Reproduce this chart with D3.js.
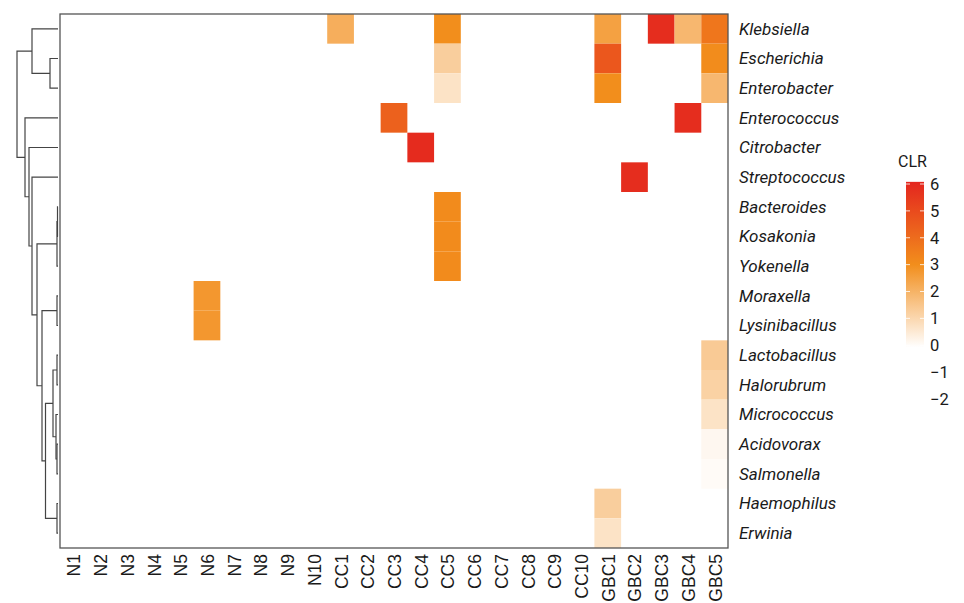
<!DOCTYPE html>
<html>
<head>
<meta charset="utf-8">
<script src="https://cdn.jsdelivr.net/npm/d3@7"></script>
<style>
  body { margin: 0; background: #fff; }
</style>
</head>
<body>
<script>
const width = 964
const height = 603

const samples = ["N1","N2","N3","N4","N5","N6","N7","N8","N9","N10",
  "CC1","CC2","CC3","CC4","CC5","CC6","CC7","CC8","CC9","CC10",
  "GBC1","GBC2","GBC3","GBC4","GBC5"]

const genera = ["Klebsiella","Escherichia","Enterobacter","Enterococcus","Citrobacter",
  "Streptococcus","Bacteroides","Kosakonia","Yokenella","Moraxella","Lysinibacillus",
  "Lactobacillus","Halorubrum","Micrococcus","Acidovorax","Salmonella","Haemophilus","Erwinia"]

// non-zero CLR cells: [genus, sample, value]
const cells = [
  ["Klebsiella","CC1",2.15], ["Klebsiella","CC5",3.0], ["Klebsiella","GBC1",2.5],
  ["Klebsiella","GBC3",5.8], ["Klebsiella","GBC4",1.9], ["Klebsiella","GBC5",3.7],
  ["Escherichia","CC5",1.3], ["Escherichia","GBC1",4.6], ["Escherichia","GBC5",3.05],
  ["Enterobacter","CC5",0.75], ["Enterobacter","GBC1",3.0], ["Enterobacter","GBC5",1.9],
  ["Enterococcus","CC3",4.3], ["Enterococcus","GBC4",5.8],
  ["Citrobacter","CC4",5.85],
  ["Streptococcus","GBC2",5.8],
  ["Bacteroides","CC5",3.1], ["Kosakonia","CC5",3.1], ["Yokenella","CC5",3.1],
  ["Moraxella","N6",2.75], ["Lysinibacillus","N6",2.75],
  ["Lactobacillus","GBC5",1.4], ["Halorubrum","GBC5",1.2], ["Micrococcus","GBC5",0.75],
  ["Acidovorax","GBC5",0.2], ["Salmonella","GBC5",0.1],
  ["Haemophilus","GBC1",1.3], ["Erwinia","GBC1",0.75]
]

// row dendrogram: [height, left, right]
const tree = [41,
  [26, "Klebsiella", [8, "Escherichia", "Enterobacter"]],
  [33, "Enterococcus",
    [29, "Citrobacter",
      [26, "Streptococcus",
        [21,
          [1, [0.5, "Bacteroides", "Kosakonia"], "Yokenella"],
          [16, [1, "Moraxella", "Lysinibacillus"],
            [12.5,
              [5, [1, "Lactobacillus", "Halorubrum"],
                  [2, "Micrococcus", [1, "Acidovorax", "Salmonella"]]],
              [1, "Haemophilus", "Erwinia"]]]]]]]]

const legendTicks = [6, 5, 4, 3, 2, 1, 0, -1, -2]

const panel = {left: 60, right: 728, top: 14, bottom: 548}

const svg = d3.select("body").append("svg")
    .attr("width", width)
    .attr("height", height)

const x = d3.scaleBand().domain(samples).range([panel.left, panel.right])
const y = d3.scaleBand().domain(genera).range([panel.top, panel.bottom])
const color = d3.scaleLinear()
    .domain([0, 3, 6])
    .range(["#ffffff", "#f28e1c", "#e4261e"])
    .clamp(true)

// cells
svg.append("g").selectAll("rect")
    .data(cells)
    .enter()
    .append("rect")
    .attr("x", d => x(d[1]))
    .attr("y", d => y(d[0]))
    .attr("width", x.bandwidth())
    .attr("height", y.bandwidth())
    .attr("fill", d => color(d[2]))

// panel border
svg.append("rect")
    .attr("x", panel.left)
    .attr("y", panel.top)
    .attr("width", panel.right - panel.left)
    .attr("height", panel.bottom - panel.top)
    .attr("fill", "none")
    .attr("stroke", "#555")
    .attr("stroke-width", 1.3)

// column labels
svg.append("g").selectAll("text")
    .data(samples)
    .enter()
    .append("text")
    .attr("transform", d => `translate(${x(d) + x.bandwidth()/2 + 7},${panel.bottom + 6}) rotate(-90)`)
    .attr("text-anchor", "end")
    .style("font-family", "'Liberation Sans', Arial, sans-serif")
    .style("font-size", "17.5px")
    .attr("fill", "#1a1a1a")
    .text(d => d)

// row labels
svg.append("g").selectAll("text")
    .data(genera)
    .enter()
    .append("text")
    .attr("x", panel.right + 11)
    .attr("y", d => y(d) + y.bandwidth()/2)
    .attr("dy", "0.35em")
    .style("font-family", "Roboto, sans-serif")
    .style("font-style", "italic")
    .style("font-size", "17px")
    .attr("fill", "#1a1a1a")
    .text(d => d)

// dendrogram
const hx = d3.scaleLinear().domain([0, 41]).range([58, 17])
const dendro = svg.append("g")
    .attr("fill", "none")
    .attr("stroke", "#444")
    .attr("stroke-width", 1.2)

function drawNode(node){
  if(typeof node === "string"){
    return {pos: y(node) + y.bandwidth()/2, h: 0}
  }
  const a = drawNode(node[1])
  const b = drawNode(node[2])
  const nx = hx(node[0])
  dendro.append("path")
      .attr("d", `M${hx(a.h)},${a.pos}H${nx}V${b.pos}H${hx(b.h)}`)
  return {pos: (a.pos + b.pos)/2, h: node[0]}
}
drawNode(tree)

// legend
const ly = d3.scaleLinear().domain([-2, 6]).range([399, 184])
const legend = svg.append("g")
const barX = 906, barW = 18

const grad = svg.append("defs").append("linearGradient")
    .attr("id", "clrGrad")
    .attr("x1", 0).attr("y1", 1).attr("x2", 0).attr("y2", 0)
d3.range(0, 6.01, 0.5).forEach(v => {
  grad.append("stop")
      .attr("offset", v/6)
      .attr("stop-color", color(v))
})

legend.append("rect")
    .attr("x", barX)
    .attr("y", ly(6.08))
    .attr("width", barW)
    .attr("height", ly(-0.08) - ly(6.08))
    .attr("fill", "url(#clrGrad)")

legend.selectAll(".tk")
    .data(d3.range(0, 7))
    .enter()
    .append("path")
    .attr("d", d => `M${barX},${ly(d)}h4M${barX + barW - 4},${ly(d)}h4`)
    .attr("stroke", "#fff")
    .attr("stroke-width", 1)
    .attr("opacity", 0.8)

legend.append("text")
    .attr("x", 898)
    .attr("y", 167)
    .style("font-family", "Roboto, sans-serif")
    .style("font-size", "16px")
    .attr("fill", "#1a1a1a")
    .text("CLR")

legend.selectAll(".lab")
    .data(legendTicks)
    .enter()
    .append("text")
    .attr("x", 930)
    .attr("y", d => ly(d))
    .attr("dy", "0.35em")
    .style("font-family", "Roboto, sans-serif")
    .style("font-size", "16.5px")
    .attr("fill", "#1a1a1a")
    .text(d => d < 0 ? "\u2212" + Math.abs(d) : d)
</script>
</body>
</html>
